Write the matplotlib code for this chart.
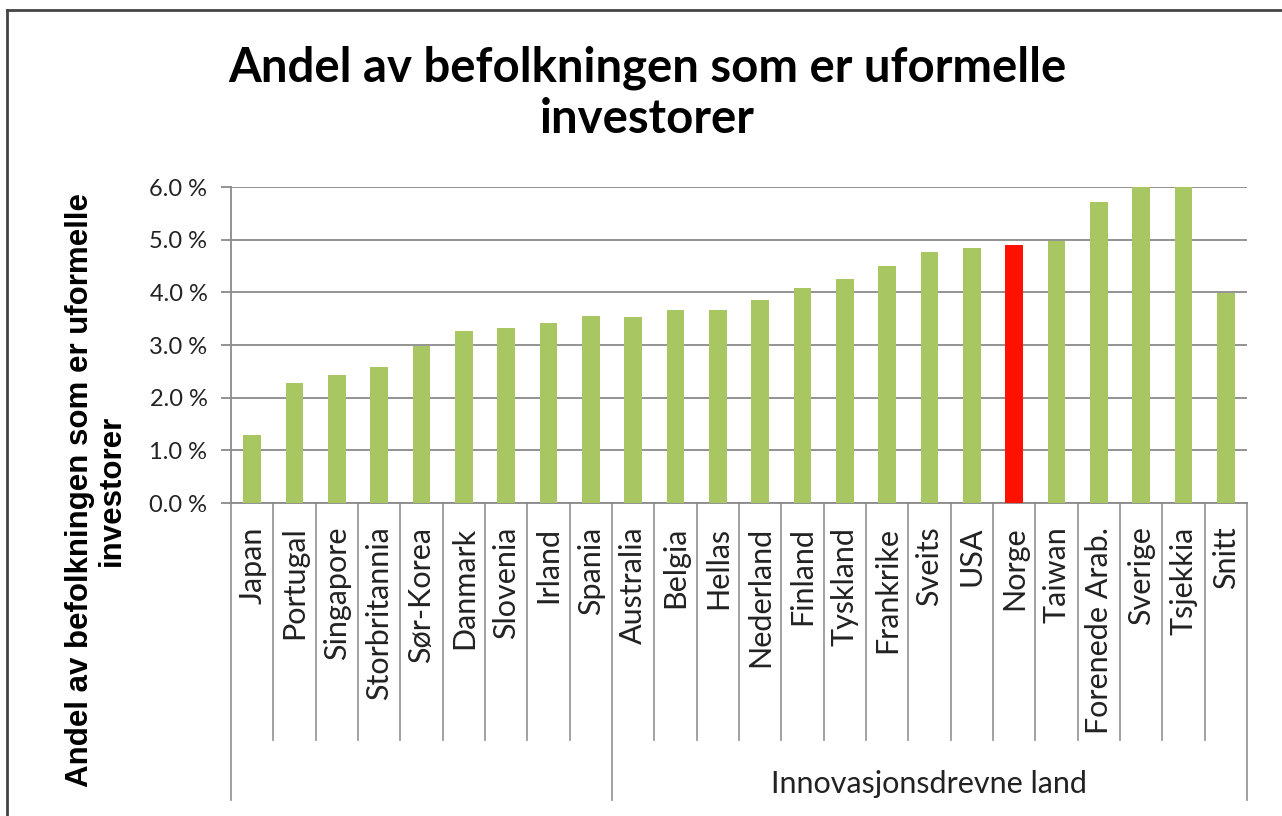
import numpy as np
import matplotlib
matplotlib.use('Agg')
import matplotlib.pyplot as plt
from matplotlib.lines import Line2D

# data
land = ['Japan', 'Portugal', 'Singapore', 'Storbritannia', 'Sør-Korea', 'Danmark',
        'Slovenia', 'Irland', 'Spania', 'Australia', 'Belgia', 'Hellas', 'Nederland',
        'Finland', 'Tyskland', 'Frankrike', 'Sveits', 'USA', 'Norge', 'Taiwan',
        'Forenede Arab.', 'Sverige', 'Tsjekkia', 'Snitt']
andel = [1.3, 2.28, 2.43, 2.58, 2.98, 3.26, 3.32, 3.42, 3.55, 3.53, 3.66, 3.66, 3.85,
         4.08, 4.25, 4.5, 4.76, 4.84, 4.9, 4.97, 5.71, 6.0, 6.0, 3.98]
grupper = ['', 'Innovasjonsdrevne land']
gruppe_start = [0, 9]
yticks = [0, 1, 2, 3, 4, 5, 6]

W, H = 1282, 816
fig = plt.figure(figsize=(W/100, H/100), dpi=100)
fig.patch.set_facecolor('white')

# plot area in pixel coords
x0, x1, ytop, ybot = 231, 1247, 187, 503
ax = fig.add_axes([x0/W, 1-ybot/H, (x1-x0)/W, (ybot-ytop)/H])

farger = ['#ff1100' if l == 'Norge' else '#a8c763' for l in land]
x = np.arange(len(land))
ax.bar(x, andel, width=0.42, color=farger, zorder=3)

ax.set_xlim(-0.5, len(land)-0.5)
ax.set_ylim(0, 6)
ax.set_yticks(yticks)
ax.set_yticklabels(['%.1f %%' % v for v in yticks], fontsize=17, family='Lato', color='#222222')
ax.yaxis.grid(True, color='#8a8a8a', linewidth=1.3, zorder=0)
ax.tick_params(axis='y', length=7, width=1.3, color='#8a8a8a', pad=10)
ax.set_xticks(x)
ax.set_xticklabels(land, rotation=90, fontsize=22, family='Lato', color='#222222')
ax.tick_params(axis='x', length=0, pad=17)
for s in ['top', 'right']:
    ax.spines[s].set_visible(False)
for s in ['left', 'bottom']:
    ax.spines[s].set_color('#8a8a8a')
    ax.spines[s].set_linewidth(1.3)

# multi-level category lines
trans = ax.get_xaxis_transform()
for i in range(len(land)+1):
    xs = i - 0.5
    ylow = -0.94 if (i in gruppe_start or i == len(land)) else -0.75
    ax.add_line(Line2D([xs, xs], [0, ylow], transform=trans, color='#9a9a9a',
                       linewidth=1.3, clip_on=False))
ends = gruppe_start[1:] + [len(land)]
for g, s, e in zip(grupper, gruppe_start, ends):
    ax.text((s + e - 1)/2, -0.89, g, transform=trans, ha='center', va='center',
            fontsize=22, family='Lato', color='#222222')

fig.text(647/W, 1-93/H, 'Andel av befolkningen som er uformelle\ninvestorer',
         ha='center', va='center', fontsize=34, fontweight='bold', family='Lato',
         linespacing=1.2)
fig.text(96/W, 1-490/H, 'Andel av befolkningen som er uformelle\ninvestorer',
         ha='center', va='center', rotation=90, fontsize=22.5, fontweight='bold',
         family='Liberation Sans', linespacing=1.1)

# frame
fig.add_artist(Line2D([7/W, 7/W], [0, 1-10/H], color='#444444', linewidth=2))
fig.add_artist(Line2D([7/W, 1], [1-10/H, 1-10/H], color='#444444', linewidth=2))

fig.savefig('out.png', dpi=100)
